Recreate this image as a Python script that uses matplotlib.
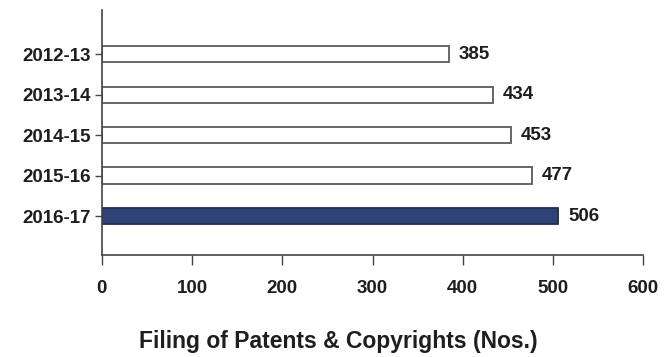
import matplotlib
matplotlib.use("Agg")
import matplotlib.pyplot as plt

years = ["2012-13", "2013-14", "2014-15", "2015-16", "2016-17"]
filings = [385, 434, 453, 477, 506]
x_ticks = [0, 100, 200, 300, 400, 500, 600]
x_label = "Filing of Patents & Copyrights (Nos.)"

plt.rcParams["font.family"] = ["Liberation Sans", "DejaVu Sans"]
text_color = "#1e1e1e"

fig = plt.figure(figsize=(6.70, 3.57), dpi=100)
ax = fig.add_axes([0.152, 0.286, 0.808, 0.686])

n = len(years)
ypos = [n - 1 - i for i in range(n)]
fills = ["white"] * (n - 1) + ["#2e4374"]
edges = ["#5a5a5a"] * (n - 1) + ["#1f2d55"]
ax.barh(ypos, filings, height=0.4, color=fills, edgecolor=edges, linewidth=1.3)

for y, v in zip(ypos, filings):
    ax.annotate(str(v), (v, y), xytext=(7, 0), textcoords="offset points",
                va="center", ha="left", fontsize=13.5, fontweight="bold", color=text_color)

ax.set_xlim(0, 600)
ax.set_ylim(-0.96, 5.09)
ax.set_xticks(x_ticks)
ax.set_xticklabels([str(t) for t in x_ticks], fontsize=13.5, fontweight="bold", color=text_color)
ax.set_yticks(ypos)
ax.set_yticklabels(years, fontsize=13.5, fontweight="bold", color=text_color)
ax.tick_params(axis="x", direction="out", length=7, width=1, color="#444444", pad=11)
ax.tick_params(axis="y", direction="out", length=5, width=1, color="#444444", pad=3)

for side in ("top", "right"):
    ax.spines[side].set_visible(False)
for side in ("left", "bottom"):
    ax.spines[side].set_color("#444444")
    ax.spines[side].set_linewidth(1.2)

ax.set_xlabel(x_label, fontsize=16.5, fontweight="bold", color=text_color)
ax.xaxis.set_label_coords(0.436, -0.355)
ax.xaxis.label.set_va("center")

fig.savefig("out.png", dpi=100)
